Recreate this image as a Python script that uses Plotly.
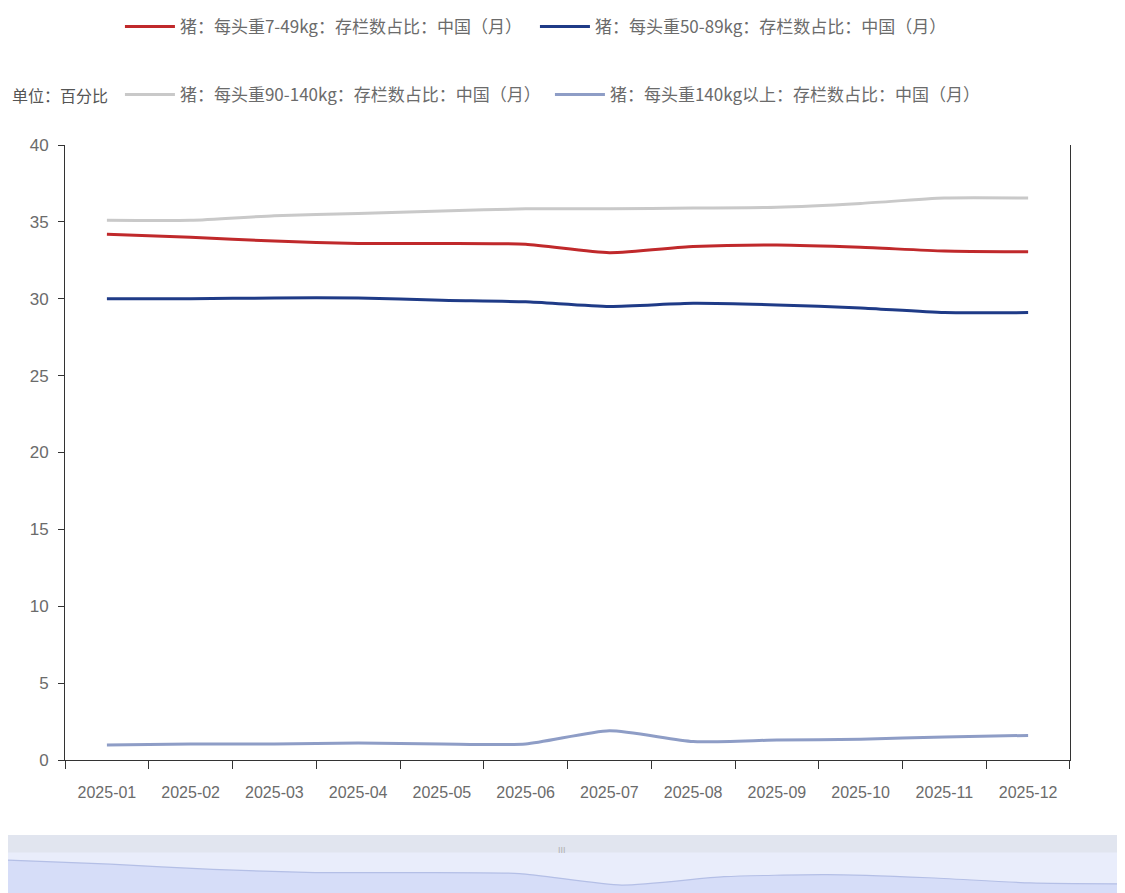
import plotly.graph_objects as go

# ====================================================
# DATA
# ====================================================
months = ["2025-01", "2025-02", "2025-03", "2025-04", "2025-05", "2025-06",
          "2025-07", "2025-08", "2025-09", "2025-10", "2025-11", "2025-12"]

w_7_49 = [34.2, 34.0, 33.75, 33.6, 33.6, 33.55, 33.0, 33.4, 33.5, 33.35, 33.1, 33.05]
w_50_89 = [30.0, 30.0, 30.05, 30.05, 29.9, 29.8, 29.5, 29.7, 29.6, 29.4, 29.1, 29.1]
w_90_140 = [35.1, 35.1, 35.4, 35.55, 35.7, 35.85, 35.85, 35.9, 35.95, 36.2, 36.55, 36.55]
w_140_up = [0.98, 1.04, 1.04, 1.1, 1.04, 1.04, 1.9, 1.2, 1.3, 1.35, 1.5, 1.6]

names = ["猪：每头重7-49kg：存栏数占比：中国（月）",
         "猪：每头重50-89kg：存栏数占比：中国（月）",
         "猪：每头重90-140kg：存栏数占比：中国（月）",
         "猪：每头重140kg以上：存栏数占比：中国（月）"]

unit_label = "单位：百分比"

# ====================================================
# STYLE
# ====================================================
colors = ["#c0292b", "#1f3b87", "#c9c9c9", "#8e9dc6"]
legends = ["legend", "legend", "legend2", "legend2"]
series = [w_7_49, w_50_89, w_90_140, w_140_up]

cjk = "Noto Sans CJK SC"
num_font = "Liberation Sans"
grey_txt = "#6b6b6b"

fig = go.Figure()

for vals, name, col, lg in zip(series, names, colors, legends):
    fig.add_trace(go.Scatter(
        x=months, y=vals, name=name, mode="lines",
        line=dict(color=col, width=3, shape="spline", smoothing=0.6),
        legend=lg, xaxis="x", yaxis="y",
    ))

# data-zoom style strip at the bottom (shape of the first series)
fig.add_trace(go.Scatter(
    x=list(range(len(months))), y=w_7_49, mode="lines",
    line=dict(color="#b4bfe6", width=1.2, shape="spline", smoothing=0.6),
    fill="tozeroy", fillcolor="#d6ddf8",
    showlegend=False, hoverinfo="skip", xaxis="x2", yaxis="y2",
))

fig.update_layout(
    width=1125, height=893,
    margin=dict(l=0, r=0, t=137, b=0, autoexpand=False),
    paper_bgcolor="white", plot_bgcolor="white",
    showlegend=True,
    xaxis=dict(
        domain=[0.0507, 0.944], type="category", automargin=False,
        range=[-0.5, len(months) - 0.5],
        tickson="boundaries", ticks="outside", ticklen=8, tickcolor="#333",
        showline=True, linecolor="#333", linewidth=1, mirror=False,
        showgrid=False, zeroline=False, anchor="y", ticklabelstandoff=18,
        tickfont=dict(family=num_font, size=16, color=grey_txt),
    ),
    yaxis=dict(
        domain=[0.1865, 1.0], range=[0, 40], dtick=5, automargin=False,
        ticks="outside", ticklen=6, tickcolor="#333",
        showline=True, linecolor="#333", linewidth=1, mirror=True,
        showgrid=False, zeroline=False, anchor="x", ticklabelstandoff=6,
        tickfont=dict(family=num_font, size=17, color=grey_txt),
    ),
    xaxis2=dict(domain=[0, 1], range=[0, len(months) - 1], visible=False,
                anchor="y2", fixedrange=True),
    yaxis2=dict(domain=[0.0106, 0.0873], range=[32.62, 35.4], visible=False,
                anchor="x2", fixedrange=True),
    legend=dict(
        orientation="h", x=0.0995, xanchor="left", y=0.9787, yanchor="middle",
        yref="container", xref="container", entrywidth=350, itemwidth=50,
        font=dict(family=cjk, size=17, color=grey_txt),
        bgcolor="rgba(0,0,0,0)",
    ),
    legend2=dict(
        orientation="h", x=0.0995, xanchor="left", y=0.9026, yanchor="middle",
        yref="container", xref="container", entrywidth=365, itemwidth=50,
        font=dict(family=cjk, size=17, color=grey_txt),
        bgcolor="rgba(0,0,0,0)",
    ),
    shapes=[
        dict(type="rect", xref="x2 domain", yref="y2 domain", x0=0, x1=1, y0=0, y1=1,
             fillcolor="#e9edfb", line=dict(width=0), layer="below"),
        dict(type="rect", xref="x2 domain", yref="y2 domain", x0=0, x1=1, y0=0.7, y1=1,
             fillcolor="#e1e5ef", line=dict(width=0), layer="below"),
    ],
    annotations=[
        dict(text=unit_label, xref="paper", yref="paper", x=0.002, y=1.0661,
             xanchor="left", yanchor="middle", showarrow=False,
             font=dict(family=cjk, size=16, color="#555")),
        dict(text="III", xref="x2 domain", yref="y2 domain", x=0.492, y=0.86,
             showarrow=False, font=dict(family=num_font, size=9, color="#b0b0b0")),
    ],
)

fig.write_html("out.html")
